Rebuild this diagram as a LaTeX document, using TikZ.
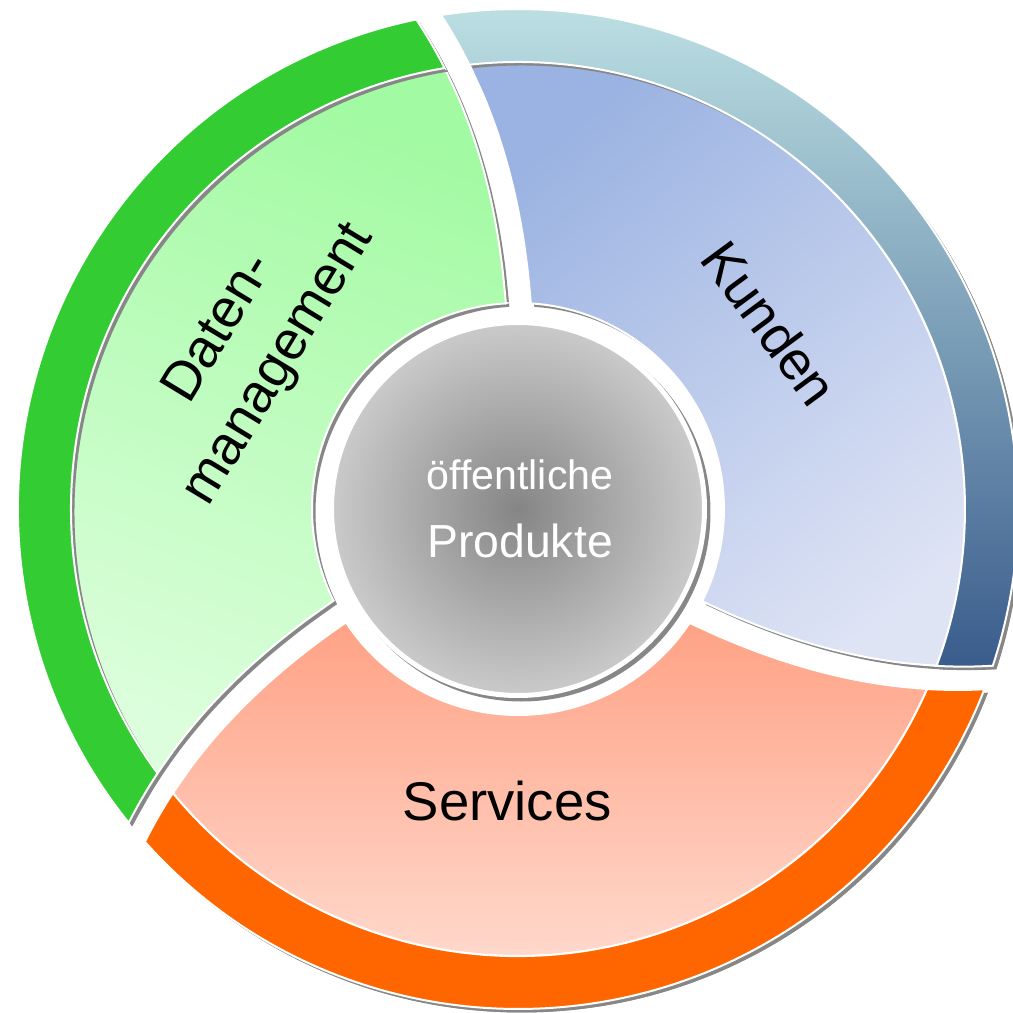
\documentclass[tikz,border=0pt]{standalone}
\usepackage{fontspec}
\setmainfont{Liberation Sans}
\definecolor{datring}{HTML}{33CC33}
\definecolor{dattop}{HTML}{A2FAA2}
\definecolor{datbot}{HTML}{DCFEDC}
\definecolor{kundtop}{HTML}{9BB3E2}
\definecolor{kundbot}{HTML}{DFE4F5}
\definecolor{kundringtop}{HTML}{BCE0E3}
\definecolor{kundringbot}{HTML}{3A5C8C}
\definecolor{servring}{HTML}{FF6600}
\definecolor{servtop}{HTML}{FFA285}
\definecolor{servbot}{HTML}{FFE1D8}
\definecolor{discin}{HTML}{858585}
\definecolor{discout}{HTML}{CACACA}
\definecolor{shadowgray}{HTML}{878787}

% one piece of the wheel: start angle, inner radius, outer radius
\newcommand{\segment}[3]{%
  plot[smooth, samples=8, variable=\rr, domain=#2:#3] ({#1+twist(\rr)+halfgap(\rr)}:\rr)
  arc[start angle={#1+twist(#3)+halfgap(#3)}, end angle={#1+120+twist(#3)-halfgap(#3)}, radius=#3]
  -- plot[smooth, samples=8, variable=\rr, domain=#3:#2] ({#1+120+twist(\rr)-halfgap(\rr)}:\rr)
  arc[start angle={#1+120+twist(#2)-halfgap(#2)}, end angle={#1+twist(#2)+halfgap(#2)}, radius=#2]
  -- cycle}

\begin{document}
\begin{tikzpicture}[
    declare function={twist(\x)=2.22*(\x-2.06)+0.448*(\x-2.06)^2; halfgap(\x)=7.16/\x;},
    shadow/.style={fill=shadowgray, shift={(0.035,-0.035)}},
    outline/.style={draw=white, line width=0.02cm},
    kundsec/.style={top color=kundtop, bottom color=kundbot, shading angle=40},
    kundring/.style={top color=kundringtop, bottom color=kundringbot},
    datsec/.style={top color=dattop, bottom color=datbot, shading angle=-20},
    datring/.style={top color=datring, bottom color=datring},
    servsec/.style={top color=servtop, bottom color=servbot},
    servring/.style={top color=servring, bottom color=servring},
    label/.style={font=\fontsize{15.5}{19.9}\selectfont, align=center}
  ]
  \useasboundingbox (-5.18,-5.04) rectangle (4.95,5.09);

  \foreach \a/\sec/\ring in {-30.1/kundsec/kundring, 89.9/datsec/datring, 209.9/servsec/servring} {
    \fill[shadow] \segment{\a}{2.06}{5.0};
    \shadedraw[\sec, outline] \segment{\a}{2.06}{4.47};
    \fill[shadow] \segment{\a}{4.47}{5.0};
    \shadedraw[\ring, outline] \segment{\a}{4.47}{5.0};
  }

  % centre
  \fill[shadow] (0,0) circle (1.89);
  \shadedraw[inner color=discin, outer color=discout, draw=white, line width=0.05cm] (0,0) circle (1.865);

  \node[label] (kunden) at (36.4:3.13) [rotate=-53.6] {Kunden};
  \node[label] (daten) at (148.85:3.13) [rotate=58.8] {Daten-\\management};
  \node[label] (services) at (267.9:2.92) {Services};
  \node[text=white, align=center, font=\fontsize{13.2}{19.3}\selectfont] (produkte) at (0.02,0)
    {{\fontsize{11.7}{19.3}\selectfont öffentliche}\\Produkte};
\end{tikzpicture}
\end{document}
